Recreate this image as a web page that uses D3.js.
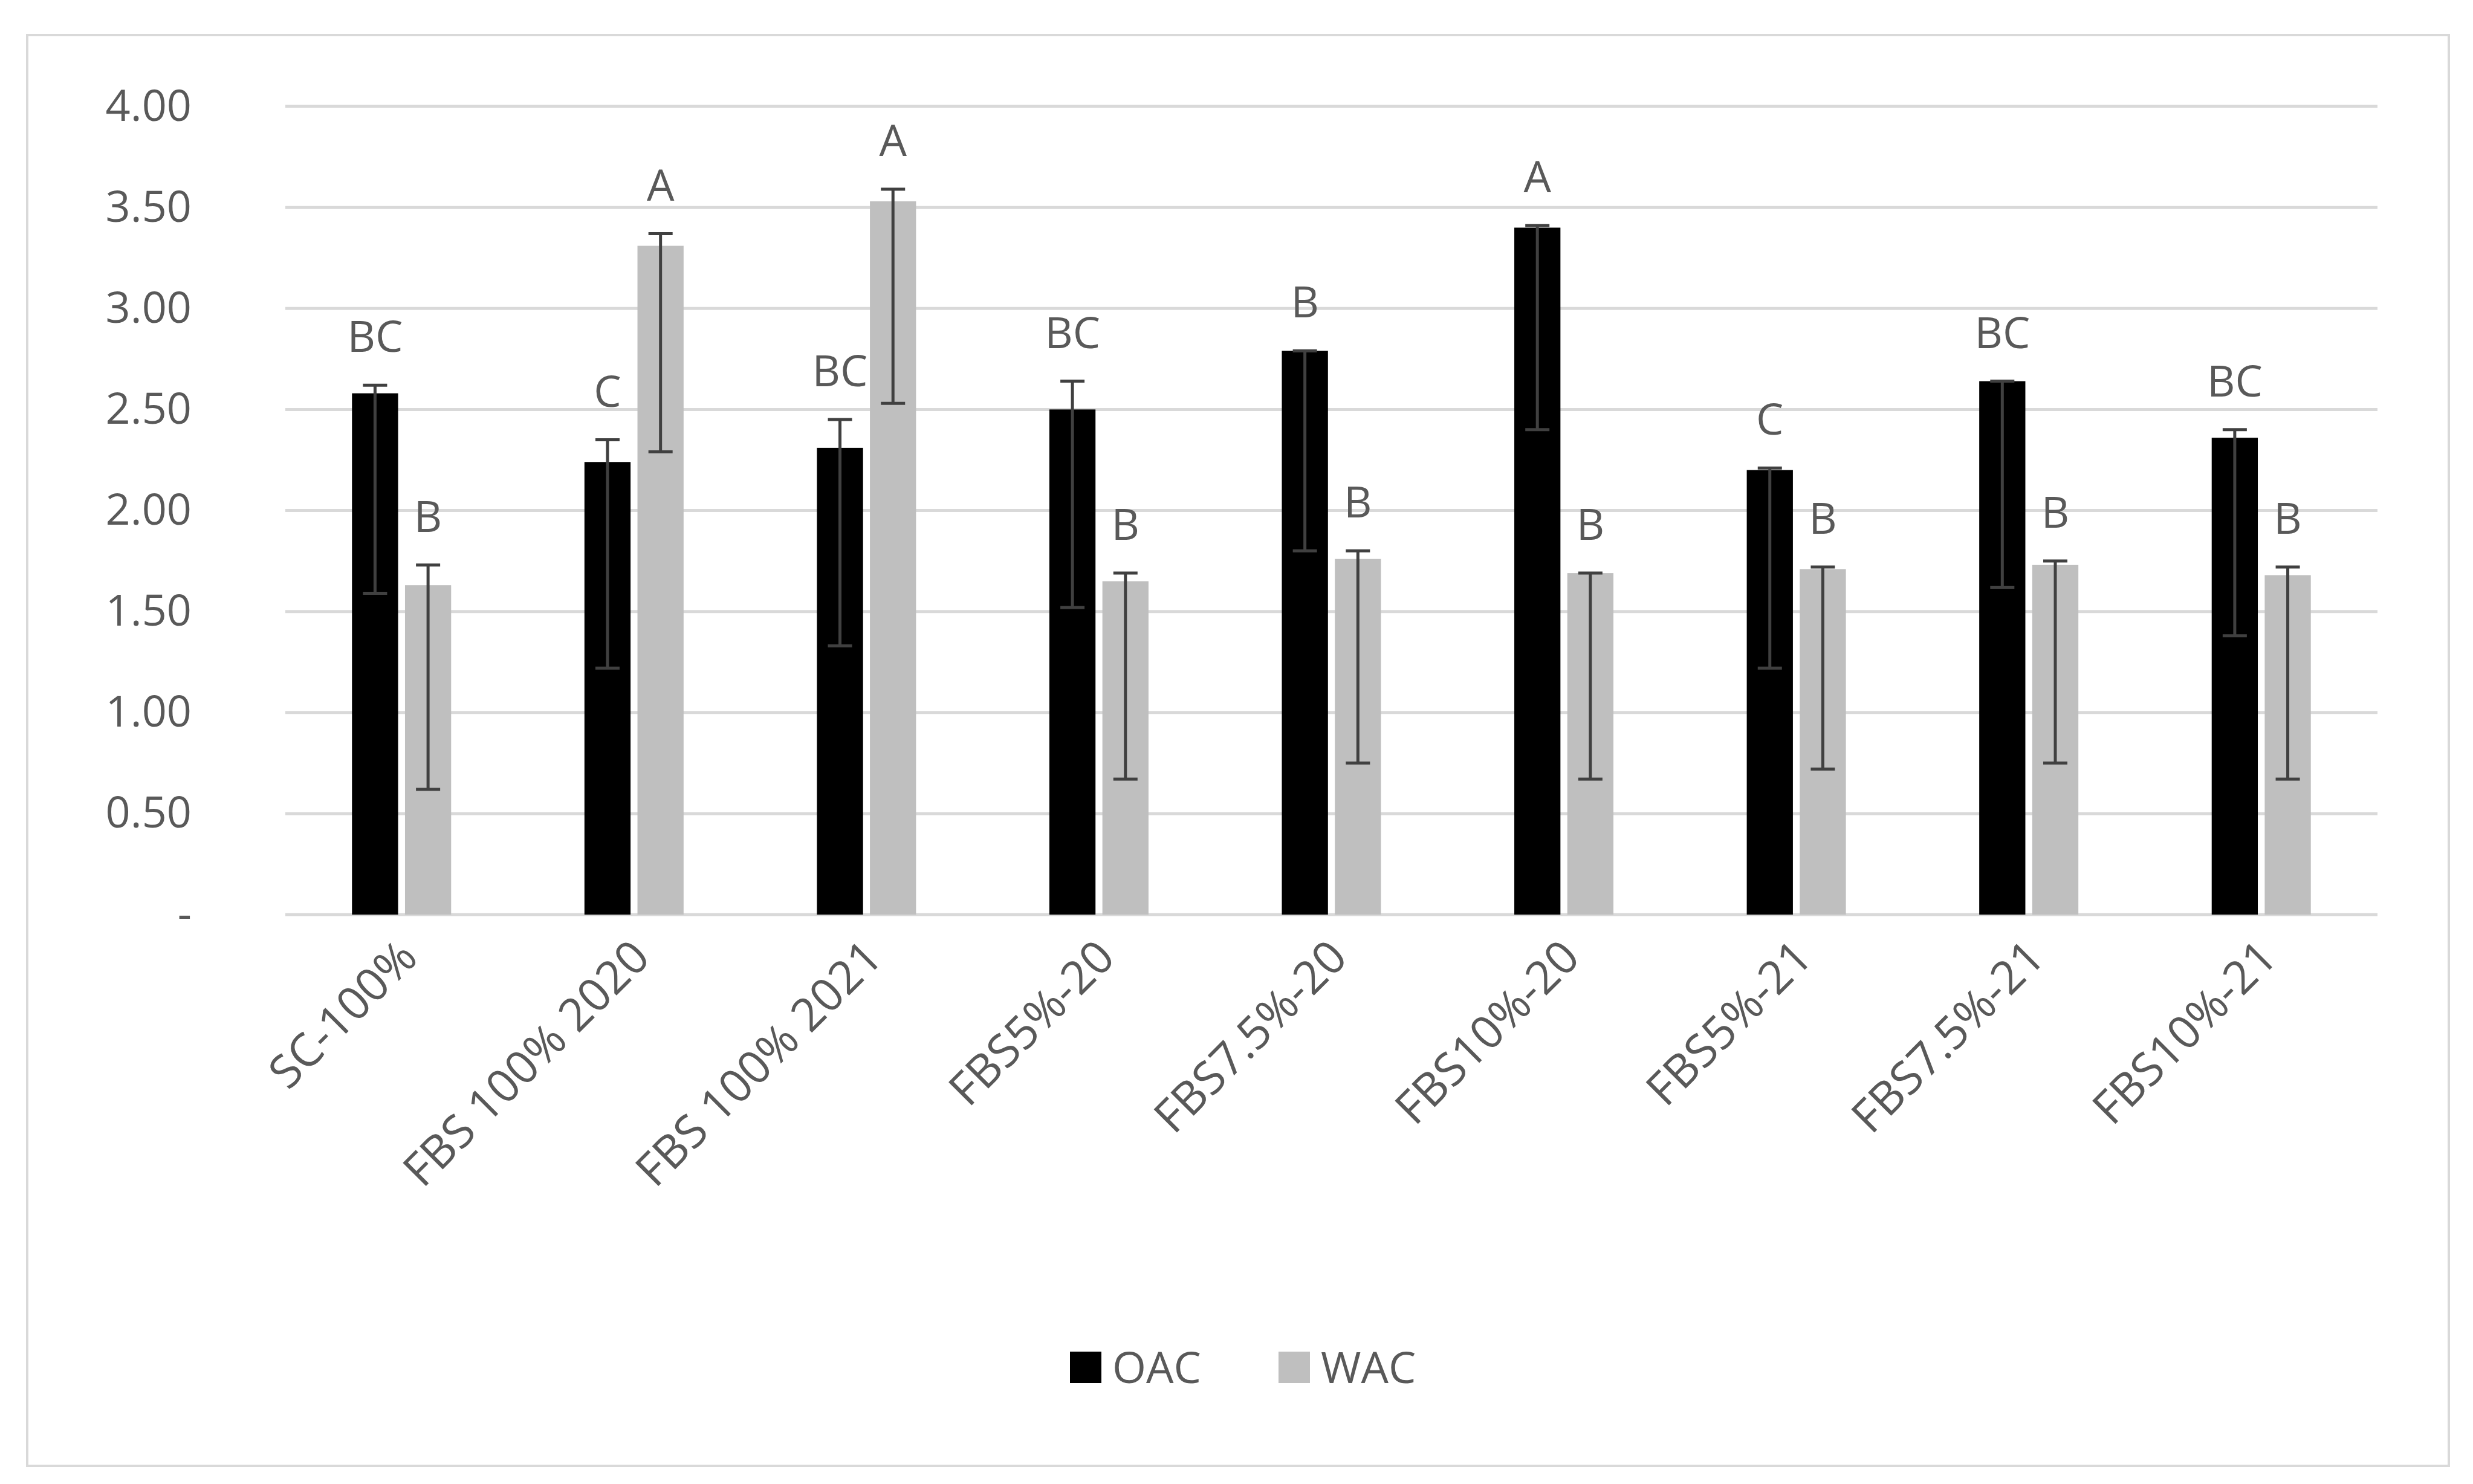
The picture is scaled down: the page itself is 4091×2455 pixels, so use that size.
<!DOCTYPE html>
<html>
<head>
<meta charset="utf-8">
<script src="https://cdn.jsdelivr.net/npm/d3@7"></script>
<style>
  body { margin: 0; background: #fff; }
  text { font-family: "Open Sans", "DejaVu Sans", sans-serif; fill: #595959; }
</style>
</head>
<body>
<div id="container"></div>
<script>
// chart data
var categories = ["SC-100%", "FBS 100% 2020", "FBS 100% 2021", "FBS5%-20", "FBS7.5%-20",
  "FBS10%-20", "FBS5%-21", "FBS7.5%-21", "FBS10%-21"];
var oac = [2.58, 2.24, 2.31, 2.50, 2.79, 3.40, 2.20, 2.64, 2.36];
var oacHigh = [2.62, 2.35, 2.45, 2.64, 2.79, 3.41, 2.21, 2.64, 2.40];
var oacLow = [1.59, 1.22, 1.33, 1.52, 1.80, 2.40, 1.22, 1.62, 1.38];
var oacLetters = ["BC", "C", "BC", "BC", "B", "A", "C", "BC", "BC"];
var wac = [1.63, 3.31, 3.53, 1.65, 1.76, 1.69, 1.71, 1.73, 1.68];
var wacHigh = [1.73, 3.37, 3.59, 1.69, 1.80, 1.69, 1.72, 1.75, 1.72];
var wacLow = [0.62, 2.29, 2.53, 0.67, 0.75, 0.67, 0.72, 0.75, 0.67];
var wacLetters = ["B", "A", "A", "B", "B", "B", "B", "B", "B"];
var yTicks = [0, 0.5, 1, 1.5, 2, 2.5, 3, 3.5, 4];
var seriesNames = ["OAC", "WAC"];
var seriesColors = ["#000000", "#bfbfbf"];

var W = 4091, H = 2455;
var plotLeft = 472, plotRight = 3933, plotTop = 176, plotBottom = 1513;

var svg = d3.select("#container").append("svg")
  .attr("width", W).attr("height", H);

svg.append("rect")
  .attr("x", 45).attr("y", 58).attr("width", 4006).attr("height", 2367)
  .attr("fill", "#fff").attr("stroke", "#d9d9d9").attr("stroke-width", 4);

var x = d3.scaleBand().domain(categories).range([plotLeft, plotRight]);
var x1 = d3.scaleBand().domain(seriesNames).range([x.bandwidth() / 2 - 82, x.bandwidth() / 2 + 82]).paddingInner(0.13);
var y = d3.scaleLinear().domain([0, 4]).range([plotBottom, plotTop]);

// gridlines
svg.append("g").selectAll("line").data(yTicks).enter().append("line")
  .attr("x1", plotLeft).attr("x2", plotRight)
  .attr("y1", (d) => y(d)).attr("y2", (d) => y(d))
  .attr("stroke", "#d9d9d9").attr("stroke-width", 5);

// y axis labels
var yAxis = d3.axisLeft(y).tickValues(yTicks).tickSize(0).tickPadding(155)
  .tickFormat((d) => d === 0 ? "-" : d.toFixed(2));
var gy = svg.append("g").attr("transform", "translate(" + plotLeft + ",0)").call(yAxis);
gy.select(".domain").remove();
gy.selectAll("text").style("font-size", "72px").style("fill", "#595959");

var series = [
  { name: "OAC", vals: oac, hi: oacHigh, lo: oacLow, letters: oacLetters },
  { name: "WAC", vals: wac, hi: wacHigh, lo: wacLow, letters: wacLetters }
];

series.forEach(function (s, si) {
  var g = svg.append("g");
  var bx = (i) => x(categories[i]) + x1(s.name);
  g.selectAll("rect").data(s.vals).enter().append("rect")
    .attr("x", (d, i) => bx(i))
    .attr("y", (d) => y(d))
    .attr("width", x1.bandwidth())
    .attr("height", (d) => plotBottom - y(d))
    .attr("fill", seriesColors[si]);

  // error bars
  var cx = (i) => bx(i) + x1.bandwidth() / 2;
  var eb = g.selectAll(".err").data(s.vals).enter().append("g").attr("class", "err")
    .attr("stroke", "#404040").attr("stroke-width", 5);
  eb.append("line").attr("x1", (d, i) => cx(i)).attr("x2", (d, i) => cx(i))
    .attr("y1", (d, i) => y(s.hi[i])).attr("y2", (d, i) => y(s.lo[i]));
  eb.append("line").attr("x1", (d, i) => cx(i) - 20).attr("x2", (d, i) => cx(i) + 20)
    .attr("y1", (d, i) => y(s.hi[i])).attr("y2", (d, i) => y(s.hi[i]));
  eb.append("line").attr("x1", (d, i) => cx(i) - 20).attr("x2", (d, i) => cx(i) + 20)
    .attr("y1", (d, i) => y(s.lo[i])).attr("y2", (d, i) => y(s.lo[i]));

  // significance letters
  g.selectAll(".lbl").data(s.letters).enter().append("text")
    .attr("x", (d, i) => cx(i))
    .attr("y", (d, i) => y(s.hi[i]) - 55)
    .attr("text-anchor", "middle")
    .style("font-size", "72px")
    .text((d) => d);
});

// x axis labels
svg.append("g").selectAll("text").data(categories).enter().append("text")
  .attr("transform", (d) => "translate(" + (x(d) + x.bandwidth() / 2 + 30) + "," + (plotBottom + 75) + ") rotate(-45)")
  .attr("text-anchor", "end")
  .style("font-size", "76px")
  .text((d) => d);

// legend
var leg = svg.append("g").attr("transform", "translate(1770,2262)");
seriesNames.forEach(function (n, i) {
  var lg = leg.append("g").attr("transform", "translate(" + (i * 345) + ",0)");
  lg.append("rect").attr("x", 0).attr("y", -26).attr("width", 52).attr("height", 52).attr("fill", seriesColors[i]);
  lg.append("text").attr("x", 70).attr("y", 26).style("font-size", "72px").text(n);
});
</script>
</body>
</html>
